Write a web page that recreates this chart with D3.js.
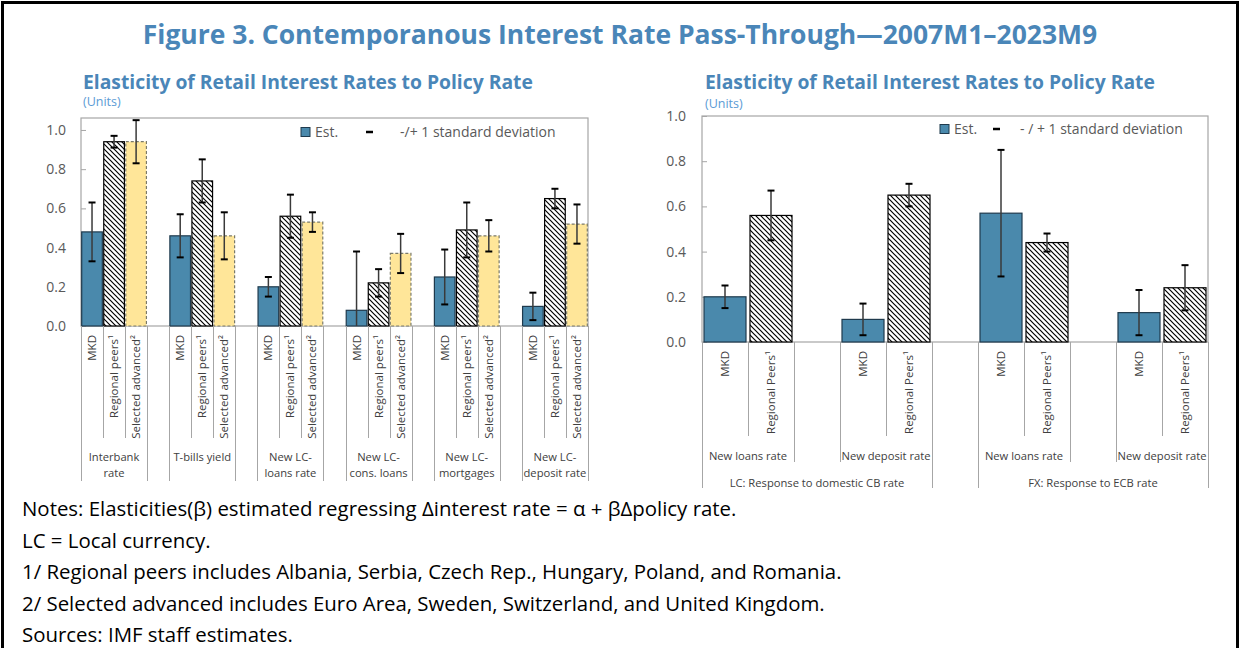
<!DOCTYPE html>
<html>
<head>
<meta charset="utf-8">
<script src="https://cdn.jsdelivr.net/npm/d3@7"></script>
<style>
  body { margin: 0; background: #fff; }
  svg { display: block; font-family: "Open Sans", "Noto Sans", sans-serif; }
</style>
</head>
<body>
<div id="chart"></div>
<script>
// ---- data ----
var leftGroups = [["Interbank", "rate"], ["T-bills yield"], ["New LC-", "loans rate"], ["New LC-", "cons. loans"], ["New LC-", "mortgages"], ["New LC-", "deposit rate"]];
var leftSeries = ["MKD", "Regional peers\u00B9", "Selected advanced\u00B2"];
var leftMkd = [0.48, 0.46, 0.20, 0.08, 0.25, 0.10];
var leftMkdSd = [0.15, 0.11, 0.05, 0.30, 0.14, 0.07];
var leftPeers = [0.94, 0.74, 0.56, 0.22, 0.49, 0.65];
var leftPeersSd = [0.03, 0.11, 0.11, 0.07, 0.14, 0.05];
var leftAdv = [0.94, 0.46, 0.53, 0.37, 0.46, 0.52];
var leftAdvSd = [0.11, 0.12, 0.05, 0.10, 0.08, 0.10];

var rightGroups = [["New loans rate"], ["New deposit rate"], ["New loans rate"], ["New deposit rate"]];
var rightSuper = ["LC: Response to domestic CB rate", "FX: Response to ECB rate"];
var rightSeries = ["MKD", "Regional Peers\u00B9"];
var rightMkd = [0.20, 0.10, 0.57, 0.13];
var rightMkdSd = [0.05, 0.07, 0.28, 0.10];
var rightPeers = [0.56, 0.65, 0.44, 0.24];
var rightPeersSd = [0.11, 0.05, 0.04, 0.10];

var yTicks = [0, 0.2, 0.4, 0.6, 0.8, 1.0];
var notes = [
  "Notes: Elasticities(\u03B2) estimated regressing \u0394interest rate = \u03B1 + \u03B2\u0394policy rate.",
  "LC = Local currency.",
  "1/ Regional peers includes Albania, Serbia, Czech Rep., Hungary, Poland, and Romania.",
  "2/ Selected advanced includes Euro Area, Sweden, Switzerland, and United Kingdom.",
  "Sources: IMF staff estimates."
];

var width = 1241, height = 648;
var blue = "#4a86b8";
var mkdFill = "#4a89ac";

var svg = d3.select("#chart").append("svg")
    .attr("width", width)
    .attr("height", height);

var defs = svg.append("defs");
var pat = defs.append("pattern")
    .attr("id", "hatch")
    .attr("patternUnits", "userSpaceOnUse")
    .attr("width", 5).attr("height", 5);
pat.append("rect").attr("width", 5).attr("height", 5).attr("fill", "#fff");
pat.append("path")
    .attr("d", "M-1,-1 L6,6 M-1,4 L1,6 M4,-1 L6,1")
    .attr("stroke", "#000")
    .attr("stroke-width", 1.2);

// outer frame
svg.append("rect")
    .attr("x", 2.5).attr("y", 2.5)
    .attr("width", 1235).attr("height", 700)
    .attr("fill", "none")
    .attr("stroke", "#000")
    .attr("stroke-width", 3);

function fitWidth(sel, w) {
    var cur = sel.node().getComputedTextLength();
    var fs = parseFloat(sel.attr("font-size"));
    sel.attr("font-size", fs * w / cur);
}

// titles
var title = svg.append("text")
    .attr("x", 620).attr("y", 44)
    .attr("text-anchor", "middle")
    .attr("font-size", 26).attr("font-weight", 700)
    .attr("fill", blue)
    .text("Figure 3. Contemporanous Interest Rate Pass-Through\u20142007M1\u20132023M9");
fitWidth(title, 955);

[[83, 106], [705, 108]].forEach(function (p) {
    var st = svg.append("text")
        .attr("x", p[0]).attr("y", 89)
        .attr("font-size", 19).attr("font-weight", 700)
        .attr("fill", blue)
        .text("Elasticity of Retail Interest Rates to Policy Rate");
    fitWidth(st, 450);
    svg.append("text")
        .attr("x", p[0]).attr("y", p[1])
        .attr("font-size", 12.5)
        .attr("fill", "#5b9bd5")
        .text("(Units)");
});

// generic panel
function drawPanel(o) {
    var nSer = o.series.length;
    var nSlots = o.groups.length * (nSer + 1) - 1;
    var x = d3.scaleBand().domain(d3.range(nSlots)).range([o.x0, o.x1]);
    var y = d3.scaleLinear().domain([0, o.yMax]).range([o.yBase, o.yTop]);
    var g = svg.append("g");

    // plot box
    g.append("rect")
        .attr("x", o.x0).attr("y", o.yTop)
        .attr("width", o.x1 - o.x0).attr("height", o.yBase - o.yTop)
        .attr("fill", "none").attr("stroke", "#a6a6a6").attr("stroke-width", 1.2);

    // y axis
    var ax = g.append("g")
        .attr("transform", "translate(" + o.x0 + ",0)")
        .call(d3.axisLeft(y).tickValues(yTicks).tickFormat(d3.format(".1f"))
            .tickSizeInner(-5).tickSizeOuter(0).tickPadding(o.tickPad));
    ax.select(".domain").remove();
    ax.selectAll(".tick line").attr("stroke", "#a6a6a6");
    ax.selectAll(".tick text")
        .attr("font-family", "Open Sans")
        .attr("font-size", 14).attr("fill", "#595959");

    // bars
    var rows = [];
    o.groups.forEach(function (grp, gi) {
        o.series.forEach(function (s, si) {
            rows.push({ gi: gi, si: si, slot: gi * (nSer + 1) + si, v: o.values[si][gi], sd: o.sds[si][gi] });
        });
    });
    var styles = [
        { fill: mkdFill, stroke: "#1f3a4d", dash: null },
        { fill: "url(#hatch)", stroke: "#000", dash: null },
        { fill: "#ffe699", stroke: "#7a7a6a", dash: "3,2" }
    ];
    g.selectAll("rect.bar").data(rows).join("rect")
        .attr("class", "bar")
        .attr("x", d => x(d.slot) + o.inset)
        .attr("width", x.bandwidth() - 2 * o.inset)
        .attr("y", d => y(d.v))
        .attr("height", d => y(0) - y(d.v))
        .attr("fill", d => styles[d.si].fill)
        .attr("stroke", d => styles[d.si].stroke)
        .attr("stroke-width", 1.2)
        .attr("stroke-dasharray", d => styles[d.si].dash);

    // error bars
    var eb = g.selectAll("g.err").data(rows).join("g").attr("class", "err");
    eb.append("line")
        .attr("x1", d => x(d.slot) + x.bandwidth() / 2)
        .attr("x2", d => x(d.slot) + x.bandwidth() / 2)
        .attr("y1", d => y(Math.min(o.yMax, d.v + d.sd)))
        .attr("y2", d => y(Math.max(0, d.v - d.sd)))
        .attr("stroke", "#3a3a3a").attr("stroke-width", 1.5);
    eb.each(function (d) {
        var cx = x(d.slot) + x.bandwidth() / 2;
        var ends = [d.v + d.sd, d.v - d.sd].filter(v => v >= 0 && v <= o.yMax);
        d3.select(this).selectAll("line.cap").data(ends).join("line")
            .attr("class", "cap")
            .attr("x1", cx - 3.5).attr("x2", cx + 3.5)
            .attr("y1", v => y(v)).attr("y2", v => y(v))
            .attr("stroke", "#000").attr("stroke-width", 2);
    });

    // category axis separators
    var lineColor = "#a6a6a6";
    var seps = [];
    o.groups.forEach(function (grp, gi) {
        var s0 = gi * (nSer + 1);
        for (var si = 0; si <= nSer; si++) {
            var xx = x(s0) + si * x.bandwidth();
            var len = (si === 0 || si === nSer) ? o.groupLineEnd : o.innerLineEnd;
            if (o.superLineEnd) {
                var per = o.groups.length / o.supers.length;
                if ((si === 0 && gi % per === 0) || (si === nSer && gi % per === per - 1)) len = o.superLineEnd;
            }
            seps.push({ x: xx, y2: len });
        }
    });
    g.selectAll("line.sep").data(seps).join("line")
        .attr("class", "sep")
        .attr("x1", d => Math.round(d.x) + 0.5).attr("x2", d => Math.round(d.x) + 0.5)
        .attr("y1", o.yBase).attr("y2", d => d.y2)
        .attr("stroke", lineColor).attr("stroke-width", 1);

    // rotated series labels
    g.selectAll("text.ser").data(rows).join("text")
        .attr("class", "ser")
        .attr("transform", d => "translate(" + (x(d.slot) + x.bandwidth() / 2) + "," + (o.yBase + 9) + ") rotate(-90)")
        .attr("text-anchor", "end")
        .attr("dy", "0.35em")
        .attr("font-size", 11.5).attr("fill", "#404040")
        .text(d => o.series[d.si]);

    // group labels
    o.groups.forEach(function (grp, gi) {
        var s0 = gi * (nSer + 1);
        var cx = x(s0) + nSer * x.bandwidth() / 2;
        grp.forEach(function (ln, li) {
            g.append("text")
                .attr("x", cx).attr("y", o.groupLabelY + li * 16)
                .attr("text-anchor", "middle")
                .attr("font-size", 11.2).attr("fill", "#404040")
                .text(ln);
        });
    });

    // super group labels
    if (o.supers) {
        var per = o.groups.length / o.supers.length;
        o.supers.forEach(function (s, k) {
            var a = x(k * per * (nSer + 1));
            var b = x((k + 1) * per * (nSer + 1) - 2) + x.bandwidth();
            g.append("text")
                .attr("x", (a + b) / 2).attr("y", o.superLabelY)
                .attr("text-anchor", "middle")
                .attr("font-size", 11.2).attr("fill", "#404040")
                .text(s);
        });
    }

    // legend
    var lg = g.append("g").attr("transform", "translate(" + o.legend[0] + "," + o.legend[1] + ")");
    lg.append("rect").attr("x", 0).attr("y", -4.5).attr("width", 9).attr("height", 9)
        .attr("fill", mkdFill).attr("stroke", "#1f3a4d").attr("stroke-width", 1);
    lg.append("text").attr("x", 14).attr("y", 5).attr("font-size", 14).attr("fill", "#595959").text("Est.");
    lg.append("line").attr("x1", o.legendDash).attr("x2", o.legendDash + 7).attr("y1", 0).attr("y2", 0)
        .attr("stroke", "#000").attr("stroke-width", 2.5);
    lg.append("text").attr("x", o.legendText).attr("y", 5).attr("font-size", 14).attr("fill", "#595959").text(o.legendLabel);
}

drawPanel({
    x0: 81, x1: 588, yTop: 118, yBase: 326, yMax: 1.061, tickPad: 15, inset: 0.7,
    groups: leftGroups, series: leftSeries,
    values: [leftMkd, leftPeers, leftAdv], sds: [leftMkdSd, leftPeersSd, leftAdvSd],
    innerLineEnd: 438, groupLineEnd: 481, groupLabelY: 461,
    legend: [301, 132], legendDash: 65, legendText: 99, legendLabel: "-/+ 1 standard deviation"
});

drawPanel({
    x0: 702, x1: 1208, yTop: 116, yBase: 342, yMax: 1.0, tickPad: 16, inset: 2,
    groups: rightGroups, series: rightSeries, supers: rightSuper,
    values: [rightMkd, rightPeers], sds: [rightMkdSd, rightPeersSd],
    innerLineEnd: 436, groupLineEnd: 462, superLineEnd: 488, groupLabelY: 460, superLabelY: 487,
    legend: [940, 129], legendDash: 53, legendText: 80, legendLabel: "- / + 1 standard deviation"
});

// notes
var nt = svg.selectAll("text.note").data(notes).join("text")
    .attr("class", "note")
    .attr("x", 22)
    .attr("y", (d, i) => 516 + i * 31.6)
    .attr("font-size", 17).attr("fill", "#000")
    .text(d => d);
var first = d3.select(nt.nodes()[0]);
var fs = 17 * 715 / first.node().getComputedTextLength();
nt.attr("font-size", fs);
</script>
</body>
</html>
